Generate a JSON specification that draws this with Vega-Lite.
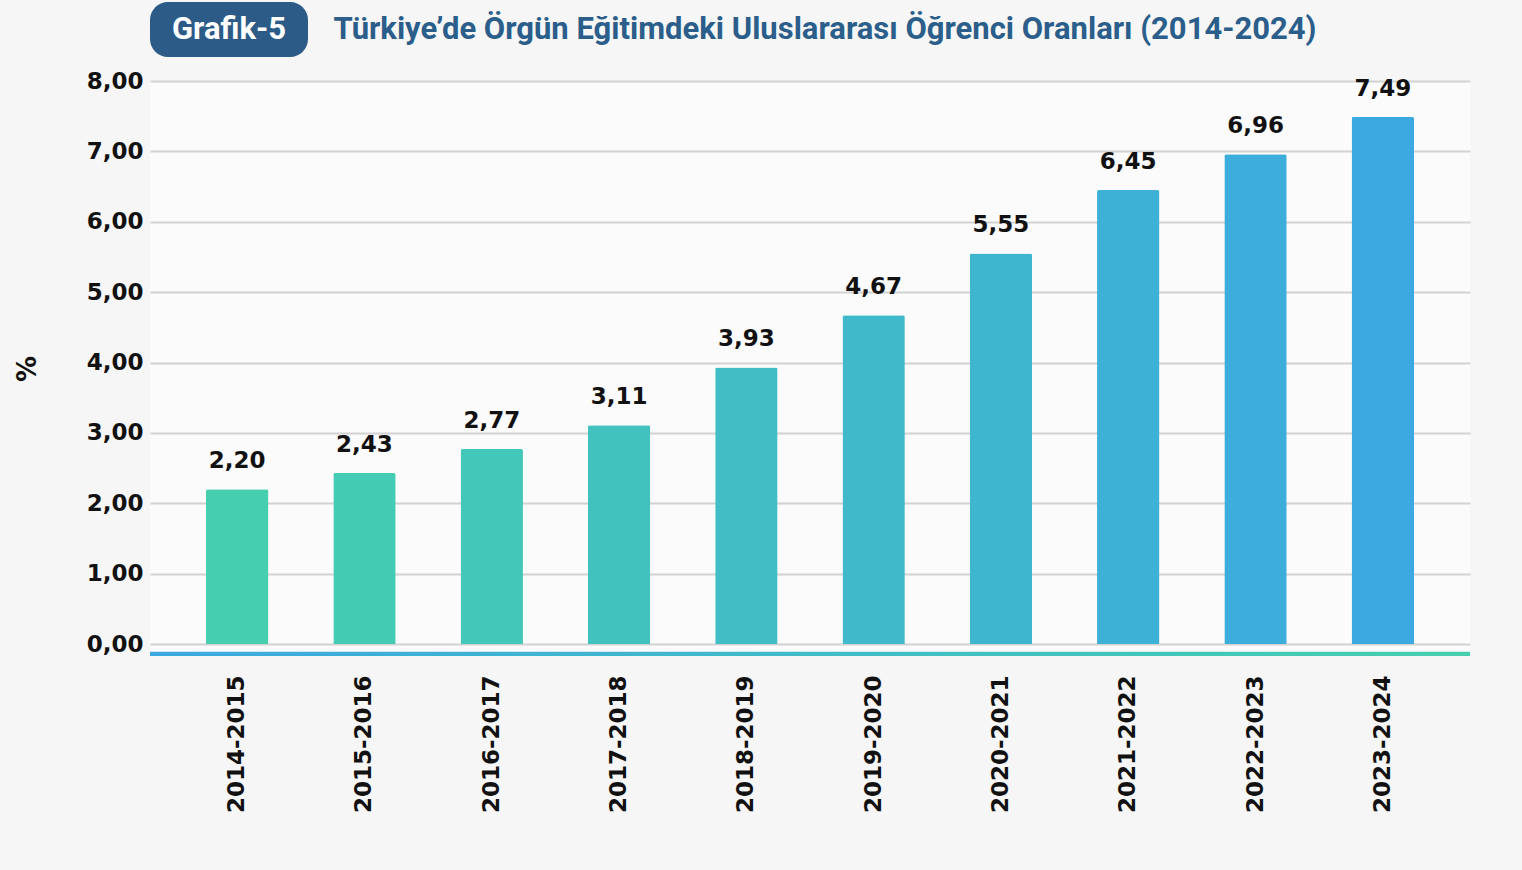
{
  "$schema": "https://vega.github.io/schema/vega-lite/v6.json",
  "background": "#f6f6f6",
  "padding": {"left": 14, "top": 2, "right": 52, "bottom": 57},
  "config": {
    "view": {"stroke": null},
    "locale": {"number": {"decimal": ",", "thousands": ".", "grouping": [3], "currency": ["", " TL"]}}
  },
  "datasets": {
    "badge": [{"t": "Grafik-5"}],
    "baslik": [{"t": "Türkiye’de Örgün Eğitimdeki Uluslararası Öğrenci Oranları (2014-2024)"}],
    "oranlar": [
      {"yil": "2014-2015", "oran": 2.20},
      {"yil": "2015-2016", "oran": 2.43},
      {"yil": "2016-2017", "oran": 2.77},
      {"yil": "2017-2018", "oran": 3.11},
      {"yil": "2018-2019", "oran": 3.93},
      {"yil": "2019-2020", "oran": 4.67},
      {"yil": "2020-2021", "oran": 5.55},
      {"yil": "2021-2022", "oran": 6.45},
      {"yil": "2022-2023", "oran": 6.96},
      {"yil": "2023-2024", "oran": 7.49}
    ]
  },
  "vconcat": [
    {
      "hconcat": [
        {
          "width": 158,
          "height": 55,
          "data": {"name": "badge"},
          "view": {"fill": "#2B5B86", "stroke": null, "cornerRadius": 18},
          "mark": {"type": "text", "font": "Roboto", "fontSize": 31, "fontWeight": "bold", "color": "#ffffff", "baseline": "middle"},
          "encoding": {"text": {"field": "t", "type": "nominal"}}
        },
        {
          "width": 982,
          "height": 55,
          "data": {"name": "baslik"},
          "mark": {"type": "text", "font": "Roboto", "fontSize": 31, "fontWeight": "bold", "color": "#2B5E8A", "baseline": "middle"},
          "encoding": {"text": {"field": "t", "type": "nominal"}}
        }
      ],
      "spacing": 25
    },
    {
      "width": 1320,
      "height": 575,
      "data": {"name": "oranlar"},
      "view": {"fill": "#fbfbfb", "stroke": null},
      "layer": [
        {
          "mark": {"type": "bar", "cornerRadiusTopLeft": 2, "cornerRadiusTopRight": 2},
          "encoding": {
            "x": {
              "field": "yil", "type": "nominal", "sort": null,
              "scale": {"paddingInner": 0.51, "paddingOuter": 0.44},
              "axis": {
                "title": null, "labelAngle": -90, "labelPadding": 19, "ticks": false, "domain": false,
                "labelFont": "DejaVu Sans", "labelFontSize": 23, "labelFontWeight": "bold", "labelColor": "#111111"
              }
            },
            "y": {
              "field": "oran", "type": "quantitative",
              "scale": {"domain": [-0.17, 8], "nice": false, "zero": false},
              "axis": {
                "values": [0, 1, 2, 3, 4, 5, 6, 7, 8], "format": ".2f",
                "title": "%", "titleFont": "DejaVu Sans", "titleFontSize": 26, "titleFontWeight": "bold", "titleColor": "#111111", "titlePadding": 46,
                "labelFont": "DejaVu Sans", "labelFontSize": 23, "labelFontWeight": "bold", "labelColor": "#111111", "labelPadding": 7,
                "ticks": false, "domain": false, "grid": true, "gridColor": "#d2d2d2", "gridWidth": 2
              }
            },
            "color": {
              "field": "yil", "type": "nominal", "legend": null,
              "scale": {
                "domain": ["2014-2015", "2015-2016", "2016-2017", "2017-2018", "2018-2019", "2019-2020", "2020-2021", "2021-2022", "2022-2023", "2023-2024"],
                "range": ["#45CFAE", "#44CBB4", "#43C7B9", "#42C2BF", "#41BEC5", "#40BACA", "#3FB6D0", "#3EB1D6", "#3DADDB", "#3CA9E1"]
              }
            }
          }
        },
        {
          "mark": {"type": "text", "baseline": "bottom", "dy": -16, "font": "DejaVu Sans", "fontSize": 23, "fontWeight": "bold", "color": "#111111"},
          "encoding": {
            "x": {"field": "yil", "type": "nominal", "sort": null},
            "y": {"field": "oran", "type": "quantitative"},
            "text": {"field": "oran", "type": "quantitative", "format": ".2f"}
          }
        },
        {
          "data": {"values": [{}]},
          "mark": {
            "type": "rect",
            "color": {"gradient": "linear", "x1": 0, "x2": 1, "y1": 0, "y2": 0, "stops": [{"offset": 0, "color": "#3BA9E0"}, {"offset": 1, "color": "#45CFAE"}]}
          },
          "encoding": {
            "y": {"datum": -0.17, "type": "quantitative"},
            "y2": {"datum": -0.11}
          }
        }
      ]
    }
  ],
  "spacing": 13
}
